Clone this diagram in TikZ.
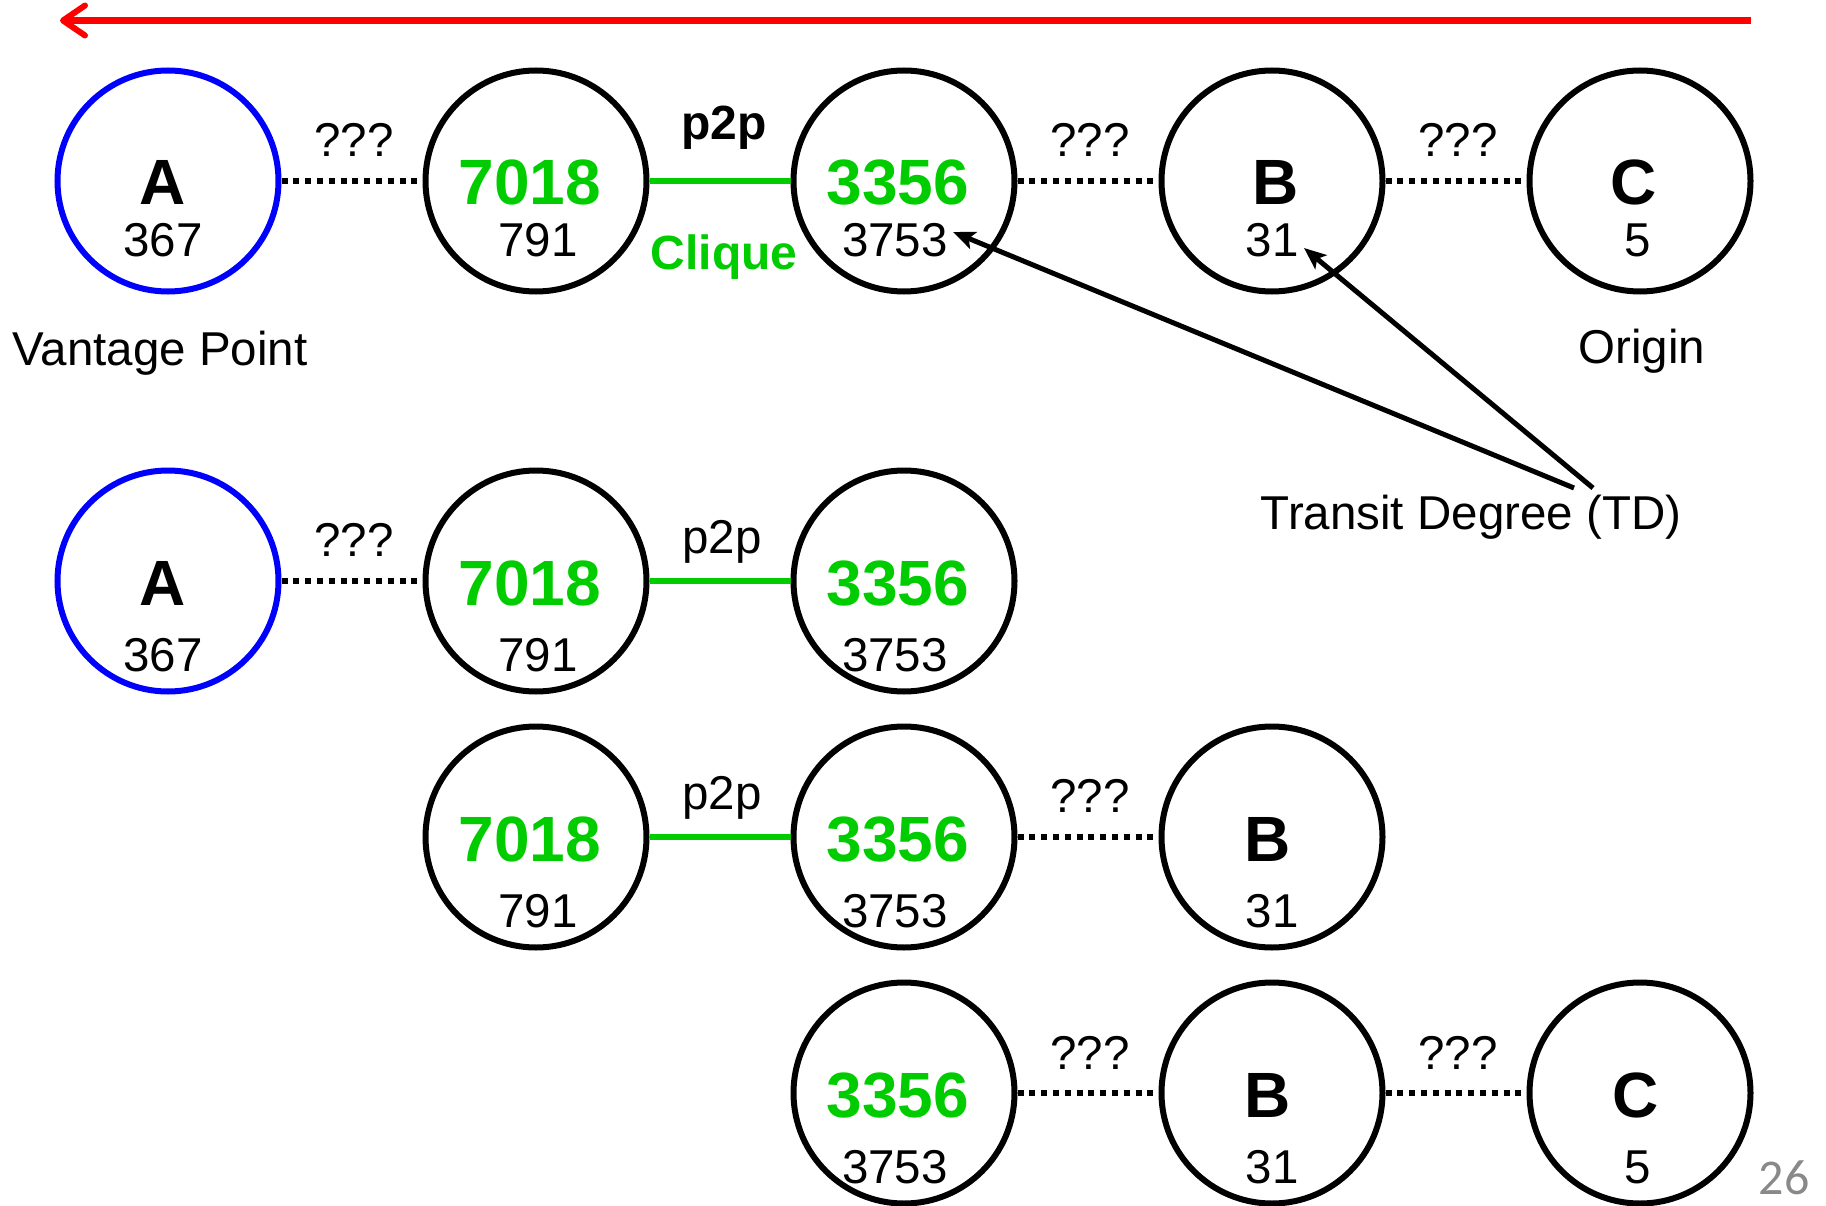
\documentclass[tikz,border=0pt]{standalone}
\usepackage{fontspec}
\setmainfont{Liberation Sans}
\newfontfamily\pagefont{Carlito}
\usetikzlibrary{arrows.meta}
\definecolor{cgreen}{RGB}{0,204,0}
\definecolor{cblue}{RGB}{0,0,255}
\definecolor{cred}{RGB}{255,0,0}
\definecolor{cgray}{RGB}{137,137,137}
\tikzset{
  asnode/.style={circle, draw=black, line width=6pt, minimum size=221pt, inner sep=0pt},
  vpnode/.style={asnode, draw=cblue},
  biglbl/.style={anchor=base, inner sep=0pt, font=\fontsize{64}{70}\selectfont\bfseries},
  greenlbl/.style={biglbl, text=cgreen},
  numlbl/.style={anchor=base, inner sep=0pt, font=\fontsize{47.5}{54}\selectfont},
  txt/.style={anchor=base, inner sep=0pt, font=\fontsize{47.5}{54}\selectfont},
  unk/.style={line width=6.5pt, dash pattern=on 6pt off 5.8pt},
  peer/.style={line width=5.5pt, draw=cgreen},
  tdarrow/.style={line width=5pt, -{Stealth[length=22pt,width=18pt,inset=5pt]}}
}
\begin{document}
\begin{tikzpicture}[x=1pt,y=-1pt]
\useasboundingbox (0,0) rectangle (1826,1206);

% red direction arrow
\coordinate (rs) at (1751,20.5);
\coordinate (re) at (60,20.5);
\draw[cred, line width=6.5pt, -{Straight Barb[length=22pt,width=30pt,round,line width=6pt]}] (rs) -- (re);

% ---------- row 1 ----------
\node[vpnode] (a1) at (168,181) {};
\node[asnode] (p1) at (536,181) {};
\node[asnode] (q1) at (904,181) {};
\node[asnode] (b1) at (1272,181) {};
\node[asnode] (c1) at (1640,181) {};
\node[biglbl] (a1l) at (163,205) {A};
\node[greenlbl] (p1l) at (530,205) {7018};
\node[greenlbl] (q1l) at (898,205) {3356};
\node[biglbl] (b1l) at (1276,205) {B};
\node[biglbl] (c1l) at (1634,205) {C};
\node[numlbl] (a1n) at (163,257) {367};
\node[numlbl] (p1n) at (538,257) {791};
\node[numlbl] (q1n) at (895,257) {3753};
\node[numlbl] (b1n) at (1272,257) {31};
\node[numlbl] (c1n) at (1638,257) {5};
\draw[unk] (a1) -- (p1);
\draw[peer] (p1) -- (q1);
\draw[unk] (q1) -- (b1);
\draw[unk] (b1) -- (c1);
\node[txt] (u11) at (354,157) {???};
\node[txt, font=\fontsize{48}{54}\selectfont\bfseries] (pp1) at (724,140) {p2p};
\node[txt, font=\fontsize{48}{54}\selectfont\bfseries, text=cgreen] (clq) at (724,270) {Clique};
\node[txt] (u12) at (1090,157) {???};
\node[txt] (u13) at (1458,157) {???};
\node[txt] (vp) at (160,366) {Vantage Point};
\node[txt] (org) at (1642,363) {Origin};
\node[txt] (td) at (1471,529) {Transit Degree (TD)};
\coordinate (tds1) at (1574,488);
\coordinate (tds2) at (1593,488);
\coordinate (tq) at (953,232);
\coordinate (tb) at (1304,248);
\draw[tdarrow] (tds1) -- (tq);
\draw[tdarrow] (tds2) -- (tb);

% ---------- row 2 ----------
\node[vpnode] (a2) at (168,581) {};
\node[asnode] (p2) at (536,581) {};
\node[asnode] (q2) at (904,581) {};
\node[biglbl] (a2l) at (163,605) {A};
\node[greenlbl] (p2l) at (530,605) {7018};
\node[greenlbl] (q2l) at (898,605) {3356};
\node[numlbl] (a2n) at (163,671) {367};
\node[numlbl] (p2n) at (538,671) {791};
\node[numlbl] (q2n) at (895,671) {3753};
\draw[unk] (a2) -- (p2);
\draw[peer] (p2) -- (q2);
\node[txt] (u21) at (354,556) {???};
\node[txt] (pp2) at (722,553) {p2p};

% ---------- row 3 ----------
\node[asnode] (p3) at (536,837) {};
\node[asnode] (q3) at (904,837) {};
\node[asnode] (b3) at (1272,837) {};
\node[greenlbl] (p3l) at (530,861) {7018};
\node[greenlbl] (q3l) at (898,861) {3356};
\node[biglbl] (b3l) at (1268,861) {B};
\node[numlbl] (p3n) at (538,927) {791};
\node[numlbl] (q3n) at (895,927) {3753};
\node[numlbl] (b3n) at (1272,927) {31};
\draw[peer] (p3) -- (q3);
\draw[unk] (q3) -- (b3);
\node[txt] (pp3) at (722,809) {p2p};
\node[txt] (u31) at (1090,812) {???};

% ---------- row 4 ----------
\node[asnode] (q4) at (904,1093) {};
\node[asnode] (b4) at (1272,1093) {};
\node[asnode] (c4) at (1640,1093) {};
\node[greenlbl] (q4l) at (898,1117) {3356};
\node[biglbl] (b4l) at (1268,1117) {B};
\node[biglbl] (c4l) at (1636,1117) {C};
\node[numlbl] (q4n) at (895,1183) {3753};
\node[numlbl] (b4n) at (1272,1183) {31};
\node[numlbl] (c4n) at (1638,1183) {5};
\draw[unk] (q4) -- (b4);
\draw[unk] (b4) -- (c4);
\node[txt] (u41) at (1090,1069) {???};
\node[txt] (u42) at (1458,1069) {???};

% page number
\node[anchor=base, inner sep=0pt, text=cgray, font=\pagefont\fontsize{50}{56}\selectfont] (pg) at (1784,1194) {26};
\end{tikzpicture}
\end{document}
